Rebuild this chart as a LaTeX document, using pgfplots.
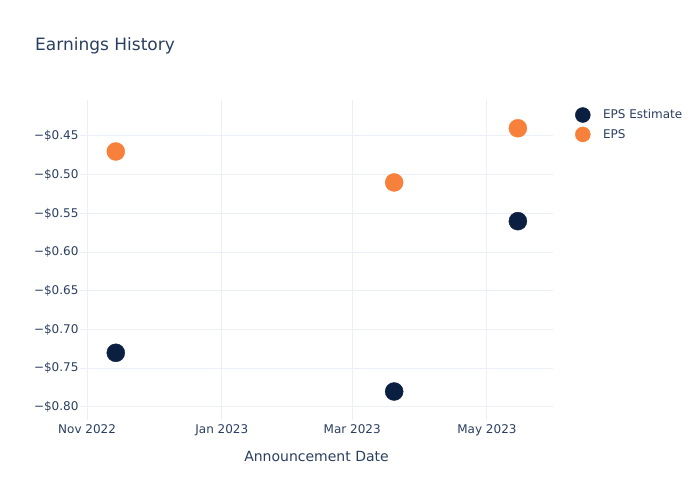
\documentclass[border=0pt]{standalone}
\usepackage{pgfplots}
\pgfplotsset{compat=1.18}
\usepackage{fontspec}
\setmainfont{DejaVu Sans}
\definecolor{txt}{HTML}{2A3F5F}
\definecolor{gridc}{HTML}{EBF0F8}
\definecolor{est}{HTML}{0B1F41}
\definecolor{eps}{HTML}{F7803A}
\begin{document}
\begin{tikzpicture}[x=1pt,y=1pt]
\path (0,0) rectangle (700,500);
\node[anchor=west, font=\fontsize{17}{20}\selectfont, text=txt, inner sep=0pt] at (35,454) {Earnings History};
\begin{axis}[at={(80pt,80pt)}, anchor=south west, scale only axis,
  width=473pt, height=320pt,
  xmin=-3.2, xmax=210.9, ymin=-0.8168, ymax=-0.4035,
  axis line style={draw=none}, tick style={draw=none},
  xtick={0,61,120,181},
  xticklabels={Nov 2022, Jan 2023, Mar 2023, May 2023},
  ytick={-0.80,-0.75,-0.70,-0.65,-0.60,-0.55,-0.50,-0.45},
  yticklabels={−\$0.80,−\$0.75,−\$0.70,−\$0.65,−\$0.60,−\$0.55,−\$0.50,−\$0.45},
  grid=major, major grid style={draw=gridc, line width=1pt},
  ticklabel style={font=\fontsize{12}{14}\selectfont, text=txt},
  yticklabel style={xshift=2pt},
  xticklabel style={yshift=-1pt},
  xlabel={Announcement Date},
  xlabel style={font=\fontsize{14}{16}\selectfont, text=txt, yshift=-8pt},
  clip=false,
  legend style={at={(1.040,0.984)}, anchor=north west, draw=none, fill=none,
    font=\fontsize{12}{14}\selectfont, text=txt, row sep=4pt},
  legend cell align=left,
]
\addplot[only marks, mark=*, mark size=9pt, mark options={draw=est, fill=est},
  legend image code/.code={\draw[fill=est, draw=est] (0,0) circle (7.5pt); \path (18pt,0);}]
  coordinates {(13,-0.73) (139,-0.78) (195,-0.56)};
\addlegendentry{EPS Estimate}
\addplot[only marks, mark=*, mark size=9pt, mark options={draw=eps, fill=eps},
  legend image code/.code={\draw[fill=eps, draw=eps] (0,0) circle (7.5pt); \path (18pt,0);}]
  coordinates {(13,-0.47) (139,-0.51) (195,-0.44)};
\addlegendentry{EPS}
\end{axis}
\end{tikzpicture}
\end{document}
